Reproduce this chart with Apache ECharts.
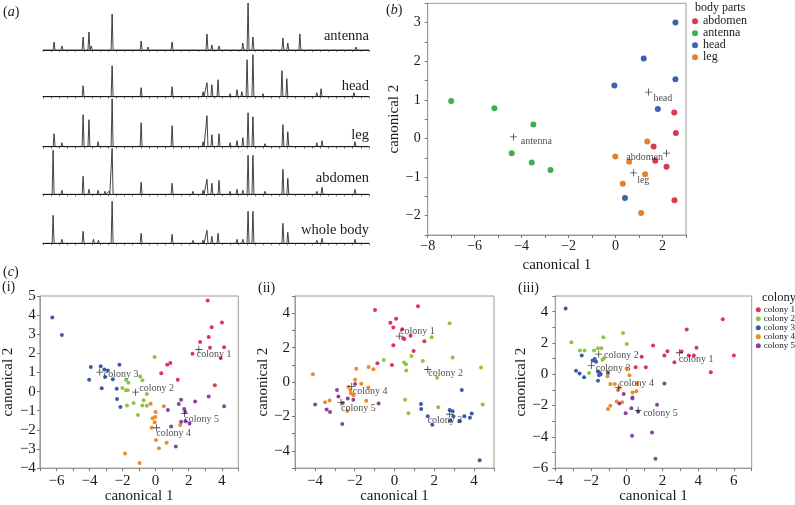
<!DOCTYPE html>
<html><head><meta charset="utf-8">
<script src="https://cdn.jsdelivr.net/npm/echarts@6/dist/echarts.min.js"></script>
<style>html,body{margin:0;padding:0;background:#fff}#c{width:795px;height:505px}</style>
</head><body><div id="c"></div>
<script>
// ---------- (a) spectra: peaks [position (0-100), relative height] ----------
const specNames = ['antenna', 'head', 'leg', 'abdomen', 'whole body'];
const specAntenna = [[3.4,8],[5.8,4],[12.3,13],[14.1,18],[14.8,4],[21.2,36],[30.1,9],[32.2,3],[39.6,8],[50.3,16],[51.8,5],[54.0,4],[61.3,7],[62.9,47],[64.4,13],[73.6,12],[75.1,7],[78.8,16],[84.5,2],[86.0,2],[96.0,3]];
const specHead = [[12.3,11],[21.2,31],[30.1,9],[39.6,10],[49.1,5],[50.3,14],[51.8,12],[53.7,17],[57.4,3],[59.5,7],[61.0,5],[62.6,37],[64.4,42],[67.5,3],[69.9,2],[73.3,26],[74.8,18],[84.0,4],[85.3,8],[95.4,4]];
const specLeg = [[3.4,13],[5.8,4],[12.3,32],[14.1,27],[16.9,5],[21.2,48],[30.1,24],[39.6,21],[49.1,5],[50.3,31],[51.8,12],[54.0,13],[57.4,4],[59.5,6],[61.3,9],[62.9,34],[64.4,30],[68.1,3],[70.5,2],[73.6,22],[75.1,15],[84.0,4],[85.6,6],[95.7,5]];
const specAbdomen = [[3.1,44],[5.8,4],[12.3,18],[14.1,5],[16.9,4],[19.0,3],[20.2,3],[21.2,46],[30.1,12],[39.6,11],[46.0,3],[49.1,4],[50.3,15],[51.8,11],[54.0,14],[57.4,3],[59.5,5],[61.3,4],[62.9,39],[64.4,39],[68.1,3],[73.6,25],[75.1,16],[84.0,3],[85.6,7],[95.7,5]];
const specWhole = [[3.1,28],[5.8,4],[12.3,12],[15.5,4],[17.0,3],[21.2,42],[30.1,10],[39.6,9],[46.0,3],[49.1,3],[50.3,13],[51.8,7],[53.7,10],[57.4,2],[59.5,4],[61.3,4],[62.9,32],[64.4,32],[68.1,2],[73.6,20],[75.1,11],[84.0,3],[85.6,5],[95.7,4]];
const specPeaks = [specAntenna, specHead, specLeg, specAbdomen, specWhole];

// ---------- (b) canonical scores by body part ----------
const partNames = ['abdomen', 'antenna', 'head', 'leg'];
const bAbdomen = [[2.5,0.67],[2.57,0.14],[1.62,-0.21],[1.69,-0.58],[2.17,-0.73],[2.51,-1.6]];
const bAntenna = [[-7.0,0.97],[-5.16,0.78],[-3.5,0.36],[-4.42,-0.38],[-3.57,-0.62],[-2.77,-0.82]];
const bHead = [[2.55,3.0],[1.2,2.07],[2.55,1.53],[-0.05,1.37],[1.8,0.76],[0.4,-1.54]];
const bLeg = [[1.35,-0.08],[-0.01,-0.47],[0.58,-0.6],[1.26,-0.93],[0.31,-1.17],[1.09,-1.93]];
const bPoints = [bAbdomen, bAntenna, bHead, bLeg];
const bCentroidNames = ['head', 'antenna', 'abdomen', 'leg'];
const bCentroids = [[1.4,1.2],[-4.35,0.04],[2.17,-0.38],[0.77,-0.89]];

// ---------- (c) canonical scores by colony ----------
const colonyNames = ['colony 1', 'colony 2', 'colony 3', 'colony 4', 'colony 5'];
const c1Col1 = [[3.15,4.77],[4.01,3.61],[3.39,3.37],[2.69,2.60],[3.21,2.86],[3.29,2.29],[4.14,2.32],[2.23,1.98],[3.94,1.76],[0.89,1.50],[0.70,1.41],[0.34,0.96],[1.34,0.62],[3.58,0.33]];
const c1Col2 = [[-0.06,1.81],[-0.93,0.79],[-0.8,0.59],[-1.79,0.62],[-1.65,0.46],[-2.01,0.19],[-1.79,0.07],[-1.69,0.07],[-0.53,-0.12],[-0.73,-0.45],[-1.33,-0.60],[-1.73,-0.72],[-0.80,-0.72],[-0.53,-0.74],[-1.07,-1.22]];
const c1Col3 = [[-6.25,3.87],[-5.67,2.96],[-3.92,1.29],[-3.32,1.33],[-3.10,1.15],[-2.89,1.10],[-2.19,1.41],[-4.02,0.62],[-3.06,0.76],[-2.59,0.64],[-3.26,0.17],[-2.35,0.15],[-2.33,-0.38],[-2.13,-0.81]];
const c1Col4 = [[-0.30,-0.64],[0.50,-0.77],[0.0,-1.07],[-0.02,-1.33],[-0.18,-1.39],[-0.06,-1.60],[-0.24,-1.89],[0.02,-2.53],[0.20,-2.96],[0.66,-2.67],[1.49,-1.74],[-1.85,-3.24],[-0.97,-3.73]];
const c1Col5 = [[1.54,-0.43],[1.40,-0.65],[2.39,-0.52],[3.21,-0.26],[4.14,-0.76],[0.74,-0.96],[1.73,-0.91],[1.79,-1.07],[2.05,-1.67],[1.81,-1.55],[1.54,-1.58],[0.94,-1.82],[1.22,-2.87]];
const c1Centroids = [[2.61,2.2],[-1.21,-0.03],[-3.38,1.02],[0.06,-1.89],[1.75,-1.14]];

const c2Col1 = [[1.18,4.41],[-0.98,4.18],[-0.21,3.45],[0.08,3.68],[-0.06,3.17],[0.39,3.07],[0.44,2.54],[0.49,2.50],[0.81,2.69],[1.50,2.37],[-0.06,2.14],[0.96,1.81],[-0.86,1.09],[-0.13,0.99]];
const c2Col2 = [[2.77,3.42],[1.87,2.60],[0.85,1.51],[-0.54,1.28],[0.48,1.13],[0.58,1.03],[1.42,1.22],[2.92,1.43],[4.35,0.84],[0.59,0.67],[2.14,0.25],[0.53,-1.03],[0.70,-1.81],[2.20,-1.47],[4.43,-1.30]];
const c2Col3 = [[3.38,-0.46],[1.33,-1.28],[1.34,-1.56],[1.67,-1.98],[1.90,-2.48],[2.77,-1.62],[2.92,-1.70],[2.96,-1.98],[2.81,-2.25],[3.26,-2.27],[3.51,-1.98],[3.79,-2.08],[3.88,-1.83],[4.28,-4.54]];
const c2Col4 = [[-4.10,0.46],[-1.92,0.78],[-1.30,0.88],[-1.06,0.74],[-1.98,0.13],[-1.67,-0.10],[-2.32,-0.27],[-1.31,-0.32],[-2.22,-0.46],[-2.19,-0.65],[-2.06,-0.76],[-1.42,-1.09],[-3.26,-1.07],[-3.49,-1.18],[-2.37,-1.68]];
const c2Col5 = [[-2.89,-0.46],[-1.98,-0.11],[-2.82,-0.84],[-2.35,-0.95],[-2.07,-1.03],[-2.60,-1.22],[-3.99,-1.30],[-3.41,-1.60],[-3.24,-1.74],[-0.80,-1.24],[-2.62,-2.44]];
const c2Centroids = [[0.24,2.67],[1.67,0.73],[2.77,-1.87],[-2.15,-0.25],[-2.69,-1.18]];

const c3Col1 = [[5.38,3.51],[3.36,2.86],[1.48,1.83],[3.91,1.70],[3.07,1.45],[2.28,1.47],[2.11,1.20],[3.48,1.20],[3.76,1.20],[6.0,1.20],[0.84,1.11],[2.67,0.76],[0.50,0.44],[1.07,0.44],[4.71,0.13]];
const c3Col2 = [[-3.10,2.04],[-2.62,1.51],[-2.36,1.51],[-1.83,1.51],[-1.61,1.66],[-1.42,1.66],[-1.31,2.37],[-0.21,2.63],[0.0,1.93],[-1.36,0.92],[-1.29,1.01],[-2.11,0.08],[-1.08,0.15]];
const c3Col3 = [[-3.42,4.20],[-2.52,1.20],[-1.91,0.88],[-1.79,0.97],[-1.72,0.80],[-2.84,0.23],[-2.64,0.04],[-2.39,-0.19],[-1.61,0.17],[-1.51,0.08],[-1.46,0.0],[-1.55,-0.06],[-1.05,0.08],[-1.61,-0.42]];
const c3Col4 = [[-1.08,-0.13],[0.0,0.38],[0.15,-0.06],[-0.92,-0.63],[-0.67,-0.63],[-0.49,-1.01],[-0.41,-0.88],[0.32,-1.16],[0.54,-1.09],[0.58,-0.61],[-0.56,-1.74],[-0.26,-1.79],[-0.92,-2.02],[-1.05,-2.23]];
const c3Col5 = [[2.11,-0.59],[-0.17,-1.26],[0.32,-1.49],[0.32,-1.55],[1.70,-1.95],[-0.41,-1.87],[0.26,-2.18],[-0.06,-2.50],[0.64,-2.39],[1.42,-3.72],[0.30,-3.93],[1.61,-5.40]];
const c3Centroids = [[2.95,1.37],[-1.57,1.28],[-1.98,0.55],[-0.47,-0.86],[0.64,-2.31]];

const cPanels = [
  {pts: [c1Col1, c1Col2, c1Col3, c1Col4, c1Col5], cent: c1Centroids},
  {pts: [c2Col1, c2Col2, c2Col3, c2Col4, c2Col5], cent: c2Centroids},
  {pts: [c3Col1, c3Col2, c3Col3, c3Col4, c3Col5], cent: c3Centroids}
];

// ---------- styling / layout ----------
const SERIF = '"Liberation Serif","DejaVu Serif",serif';
const INK = '#1a1a1a';
const BOX = '#9a9a9a';
const partColors = ['#dc3653', '#43ad4b', '#3d62ad', '#e5802e'];
const colonyColors = ['#e0335a', '#8cc641', '#3a5ca8', '#ec8a2e', '#8a44a0'];
const specBase = [50, 96.7, 146.7, 194.3, 243.3];
const specLabelY = [36, 86, 135, 178, 230];
const bOffsets = [['right',[1.5,6.6]],['right',[3.9,4]],['left',[0,4]],['right',[0,7.7]]];
const cOffsets = [
  [[-5.5,5.3],[0.2,-4.3],[0.5,2.3],[-3.8,5.4],[-3.8,5.6]],
  [[-2.8,-4.4],[-2.9,4.3],[-25.5,6.3],[-2.5,5.3],[-3.5,5.7]],
  [[-4.1,7],[1.8,0.7],[0.9,2.6],[-2.5,-4],[1.5,2.7]]
];
const cGrids = [
  {left:39.3, top:296, width:199, height:174.5, x:[-7,5], y:[-4,5], yAll:true, yGap:19.8, yMargin:4},
  {left:295, top:296, width:199, height:174.7, x:[-5,5], y:[-5,5], yAll:false, yGap:18.5, yMargin:5},
  {left:555.3, top:296, width:196.4, height:174.7, x:[-4,7], y:[-6,5], yAll:false, yGap:22.8, yMargin:7}
];
const PLUS = 'path://M4.4,0H5.6V4.4H10V5.6H5.6V10H4.4V5.6H0V4.4H4.4Z';
const fmt = v => (v < 0 ? '\u2212' : '') + Math.abs(v);

const grid = [], xAxis = [], yAxis = [], series = [];

// spectra
function spikes(peaks) {
  const d = [[0, 0]];
  peaks.forEach(([p, h]) => { d.push([p - 0.3, 0], [p, h], [p + 0.3, 0]); });
  d.push([100, 0]);
  return d;
}
specPeaks.forEach((pk, i) => {
  grid.push({left:43, top:specBase[i] - 48, width:326, height:48});
  xAxis.push({type:'value', gridIndex:i, min:0, max:100, interval:2.5,
    axisLine:{onZero:false, lineStyle:{color:'#222', width:1.2}},
    axisTick:{length:2, lineStyle:{color:'#555', width:0.8}},
    axisLabel:{show:false}, splitLine:{show:false}});
  yAxis.push({type:'value', gridIndex:i, min:0, max:48, show:false});
  series.push({type:'line', name:'spec ' + specNames[i], xAxisIndex:i, yAxisIndex:i,
    data:spikes(pk), symbol:'none', clip:false, silent:true,
    lineStyle:{color:'#151515', width:0.8}});
});

function scatterAxes(gi, xr, yr, yInt, xLblFn, yLblFn, fs, xGap, yGap, xMargin, yMargin) {
  const common = {
    axisLine:{onZero:false, lineStyle:{color:BOX, width:1}},
    axisTick:{length:3, lineStyle:{color:'#777', width:1}},
    splitLine:{show:false},
    nameLocation:'middle',
    nameTextStyle:{fontFamily:SERIF, fontSize:15, color:INK}
  };
  xAxis.push(Object.assign({type:'value', gridIndex:gi, min:xr[0], max:xr[1], interval:1,
    name:'canonical 1', nameGap:xGap,
    axisLabel:{formatter:xLblFn, fontFamily:SERIF, fontSize:fs, color:INK, margin:xMargin}}, common));
  yAxis.push(Object.assign({type:'value', gridIndex:gi, min:yr[0], max:yr[1], interval:yInt,
    name:'canonical 2', nameGap:yGap, nameRotate:90,
    axisLabel:{formatter:yLblFn, fontFamily:SERIF, fontSize:fs, color:INK, margin:yMargin}}, common));
}
const evenOnly = v => (Math.round(v) === v && v % 2 === 0) ? fmt(v) : '';
const intOnly = v => (Math.round(v) === v) ? fmt(v) : '';

// (b)
const gb = 5;
grid.push({left:427.7, top:3.3, width:258.3, height:231.7, show:true, borderColor:BOX, borderWidth:1});
scatterAxes(gb, [-8,3], [-2.5,3.5], 0.5, evenOnly, intOnly, 14, 22.5, 23, 4, 7);
bPoints.forEach((pts, k) => {
  series.push({type:'scatter', name:partNames[k], xAxisIndex:gb, yAxisIndex:gb, data:pts,
    symbolSize:6, itemStyle:{color:partColors[k], opacity:1}});
});
series.push({type:'scatter', name:'b centroids', xAxisIndex:gb, yAxisIndex:gb, symbol:PLUS, symbolSize:7,
  itemStyle:{color:INK},
  data:bCentroids.map((v, k) => ({value:v, label:{show:true, formatter:bCentroidNames[k],
    position:bOffsets[k][0], distance:0, offset:bOffsets[k][1],
    fontFamily:SERIF, fontSize:10, color:INK}}))});

// (c)
cPanels.forEach((panel, p) => {
  const gi = 6 + p, g = cGrids[p];
  grid.push({left:g.left, top:g.top, width:g.width, height:g.height, show:true, borderColor:BOX, borderWidth:1});
  scatterAxes(gi, g.x, g.y, 1, evenOnly, g.yAll ? intOnly : evenOnly, 15, 17.5, g.yGap, 5, g.yMargin);
  panel.pts.forEach((pts, k) => {
    series.push({type:'scatter', name:colonyNames[k], xAxisIndex:gi, yAxisIndex:gi, data:pts,
      symbolSize:4, itemStyle:{color:colonyColors[k], opacity:1}});
  });
  series.push({type:'scatter', name:'c centroids ' + p, xAxisIndex:gi, yAxisIndex:gi, symbol:PLUS, symbolSize:7,
    itemStyle:{color:INK}, z:5,
    data:panel.cent.map((v, k) => ({value:v, label:{show:true, formatter:colonyNames[k],
      position:'right', distance:0, offset:cOffsets[p][k],
      fontFamily:SERIF, fontSize:10, color:INK}}))});
});

// text decorations
function txt(text, x, y, size, align, extra) {
  return Object.assign({type:'text', x:x, y:y, silent:true,
    style:{text:text, font:size + 'px ' + SERIF, fill:INK, align:align || 'left', verticalAlign:'middle'}}, extra || {});
}
function panelLabel(letter, x, y) {
  return {type:'text', x:x, y:y, silent:true,
    style:{text:'({i|' + letter + '})', font:'14px ' + SERIF, fill:INK, verticalAlign:'middle',
      rich:{i:{fontStyle:'italic', fontFamily:SERIF, fontSize:14, fill:INK}}}};
}
const graphic = [
  panelLabel('a', 3, 12), panelLabel('b', 386, 10), panelLabel('c', 3, 272),
  txt('(i)', 2, 287, 14), txt('(ii)', 258, 288, 14), txt('(iii)', 518, 288, 14),
  txt('body parts', 695, 7.5, 12), txt('colony', 762, 298, 12.5)
];
specNames.forEach((n, i) => graphic.push(txt(n, 369, specLabelY[i], 14.5, 'right')));

const option = {
  animation:false,
  backgroundColor:'#ffffff',
  grid, xAxis, yAxis, series, graphic,
  legend:[
    {orient:'vertical', left:692, top:15.3, padding:0, itemWidth:6, itemHeight:6, itemGap:0, icon:'circle',
      data:partNames, selectedMode:false,
      textStyle:{fontFamily:SERIF, fontSize:12, lineHeight:10.7, color:INK}},
    {orient:'vertical', left:755.8, top:305.3, padding:0, itemWidth:5, itemHeight:5, itemGap:0, icon:'circle',
      data:colonyNames, selectedMode:false,
      textStyle:{fontFamily:SERIF, fontSize:9, lineHeight:8, color:INK, padding:[0,0,0,-2]}}
  ]
};
const chart = echarts.init(document.getElementById('c'), null, {renderer:'canvas'});
chart.setOption(option);
</script></body></html>
